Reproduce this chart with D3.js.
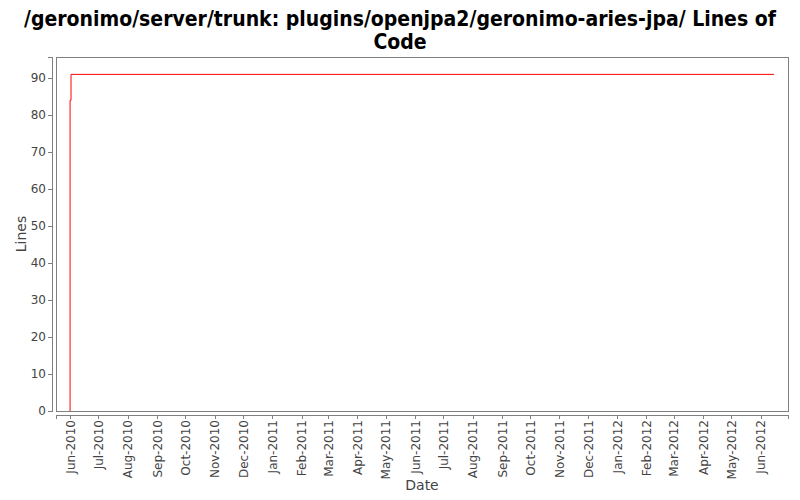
<!DOCTYPE html>
<html><head><meta charset="utf-8">
<script src="https://cdn.jsdelivr.net/npm/d3@7"></script>
<style>body{margin:0;background:#fff}</style>
</head><body>
<svg id="c" width="800" height="500"></svg>
<script>
const titleLines = ["/geronimo/server/trunk: plugins/openjpa2/geronimo-aries-jpa/ Lines of", "Code"];
const dates = ["2010-06-01", "2010-06-01", "2010-06-02", "2012-06-15"];
const lines = [0, 84, 91, 91];
const yTicks = [0, 10, 20, 30, 40, 50, 60, 70, 80, 90];
const xTickMonths = ["2010-06-01","2010-07-01","2010-08-01","2010-09-01","2010-10-01","2010-11-01","2010-12-01","2011-01-01","2011-02-01","2011-03-01","2011-04-01","2011-05-01","2011-06-01","2011-07-01","2011-08-01","2011-09-01","2011-10-01","2011-11-01","2011-12-01","2012-01-01","2012-02-01","2012-03-01","2012-04-01","2012-05-01","2012-06-01"];

const svg = d3.select("#c");
const L = 56, R = 788, T = 57, B = 411;
const parse = d3.utcParse("%Y-%m-%d");
const data = dates.map((d, i) => ({date: parse(d), v: lines[i]}));
const minD = parse("2010-06-01"), maxD = parse("2012-06-15");
const span = maxD - minD;
const x = d3.scaleUtc().domain([new Date(+minD - span * 0.02), new Date(+maxD + span * 0.02)]).range([L, R]);
const y = d3.scaleLinear().domain([0, 95.7]).range([B, T]);

const tf = d3.utcFormat("%b-%Y");
const font = "'DejaVu Sans', sans-serif";

svg.append("rect").attr("x", L).attr("y", T).attr("width", R - L).attr("height", B - T)
  .attr("fill", "#fff").attr("stroke", "#808080").attr("stroke-width", 1).attr("shape-rendering", "crispEdges");

// Y axis
const yAxis = svg.append("g").attr("transform", `translate(${L - 4},0)`)
  .call(d3.axisLeft(y).tickValues(yTicks).tickSize(4).tickPadding(2).tickFormat(d3.format("d")));
// X axis
const xAxis = svg.append("g").attr("transform", `translate(0,${B + 4})`)
  .call(d3.axisBottom(x).tickValues(xTickMonths.map(parse)).tickSize(4).tickPadding(2).tickFormat(tf));
[yAxis, xAxis].forEach(g => {
  g.select(".domain").attr("stroke", "#808080").attr("shape-rendering", "crispEdges");
  g.selectAll(".tick line").attr("stroke", "#808080").attr("shape-rendering", "crispEdges");
  g.selectAll("text").attr("fill", "#444").attr("font-family", font).attr("font-size", 12);
});
xAxis.selectAll("text").attr("transform", "rotate(-90)").attr("text-anchor", "end")
  .attr("x", -5).attr("y", 0).attr("dy", "0.35em");

// line
svg.append("path").datum(data)
  .attr("fill", "none").attr("stroke", "#ff0000").attr("stroke-width", 1)
  .attr("d", d3.line().x(d => x(d.date)).y(d => y(d.v)).curve(d3.curveStepAfter));

// titles
svg.append("text").attr("x", 400).attr("y", 26).attr("text-anchor", "middle")
  .attr("font-family", "'DejaVu Sans Condensed', 'DejaVu Sans', sans-serif").attr("font-weight", "bold").attr("font-size", 21)
  .attr("fill", "#000")
  .selectAll("tspan").data(titleLines).join("tspan")
  .attr("x", 400).attr("dy", (d, i) => i === 0 ? 0 : 23).text(d => d);

svg.append("text").attr("transform", `translate(26,${(T + B) / 2}) rotate(-90)`)
  .attr("text-anchor", "middle").attr("font-family", font).attr("font-size", 14).attr("fill", "#444").text("Lines");
svg.append("text").attr("x", (L + R) / 2).attr("y", 490).attr("text-anchor", "middle")
  .attr("font-family", font).attr("font-size", 14).attr("fill", "#444").text("Date");
</script>
</body></html>
